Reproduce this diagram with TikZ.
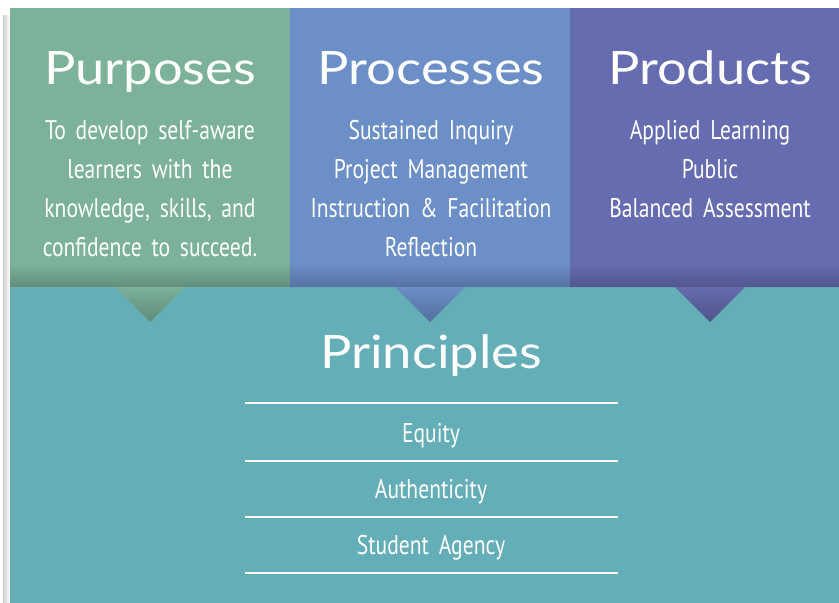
\documentclass[tikz,border=0pt]{standalone}
\usepackage{fontspec}
\setmainfont{Lato}
\newfontfamily\headfont[FakeStretch=1.14]{Lato}
\newfontfamily\narrowfont[FakeStretch=0.8, WordSpace=1.7]{PT Sans}
\usetikzlibrary{fadings}

\definecolor{purposegreen}{RGB}{123,178,153}
\definecolor{processblue}{RGB}{108,143,200}
\definecolor{productviolet}{RGB}{102,108,176}
\definecolor{principleteal}{RGB}{100,174,183}

\tikzset{
  heading/.style={text=white, font=\headfont\fontsize{46}{50}\selectfont, anchor=base},
  itemlist/.style={text=white, align=center, anchor=base,
    font=\narrowfont\fontsize{27}{39}\selectfont, inner sep=0pt},
  rule/.style={white, line width=1.6pt}
}

\begin{document}
\begin{tikzpicture}[x=1pt, y=-1pt]
  \useasboundingbox (0,0) rectangle (839,603);
  \fill[white] (0,0) rectangle (839,603);
  % soft shadow on the left edge
  \fill[black!18, path fading=east] (3,14) rectangle (10,603);

  % principles base
  \fill[principleteal] (10,287) rectangle (839,603);

  % the three upper panels, each with its pointer
  \fill[purposegreen] (10,8) -- (290,8) -- (290,287) -- (185,287)
    -- (150,322) -- (115,287) -- (10,287) -- cycle;
  \fill[processblue] (290,8) -- (570,8) -- (570,287) -- (465,287)
    -- (430,322) -- (395,287) -- (290,287) -- cycle;
  \fill[productviolet] (570,8) -- (839,8) -- (839,287) -- (745,287)
    -- (710,322) -- (675,287) -- (570,287) -- cycle;
  % darker band along the lower edge of the panels
  \fill[black, opacity=0.2, path fading=north] (10,264) rectangle (839,287);
  \fill[black, opacity=0.22, path fading=north] (115,287) -- (185,287) -- (150,322) -- cycle;
  \fill[black, opacity=0.22, path fading=north] (395,287) -- (465,287) -- (430,322) -- cycle;
  \fill[black, opacity=0.22, path fading=north] (675,287) -- (745,287) -- (710,322) -- cycle;

  \node[heading] (purposes) at (150,84) {Purposes};
  \node[heading] (processes) at (431,84) {Processes};
  \node[heading] (products) at (710,84) {Products};

  % anchor=base sits on the last line of each list
  \node[itemlist] (purposes-text) at (150,256) {To develop self-aware\\
    learners with the\\ knowledge, skills, and\\ confidence to succeed.};
  \node[itemlist] (processes-text) at (431,256) {Sustained Inquiry\\
    Project Management\\ Instruction \& Facilitation\\ Reflection};
  \node[itemlist] (products-text) at (710,217) {Applied Learning\\
    Public\\ Balanced Assessment};

  \node[heading] (principles) at (431,368) {Principles};

  \coordinate (r1l) at (245,403); \coordinate (r1r) at (618,403);
  \coordinate (r2l) at (245,461); \coordinate (r2r) at (618,461);
  \coordinate (r3l) at (245,517); \coordinate (r3r) at (618,517);
  \coordinate (r4l) at (245,573); \coordinate (r4r) at (618,573);
  \draw[rule] (r1l) -- (r1r);
  \draw[rule] (r2l) -- (r2r);
  \draw[rule] (r3l) -- (r3r);
  \draw[rule] (r4l) -- (r4r);

  \node[itemlist] (equity) at (431,442) {Equity};
  \node[itemlist] (authenticity) at (431,498) {Authenticity};
  \node[itemlist] (agency) at (431,554) {Student Agency};
\end{tikzpicture}
\end{document}
